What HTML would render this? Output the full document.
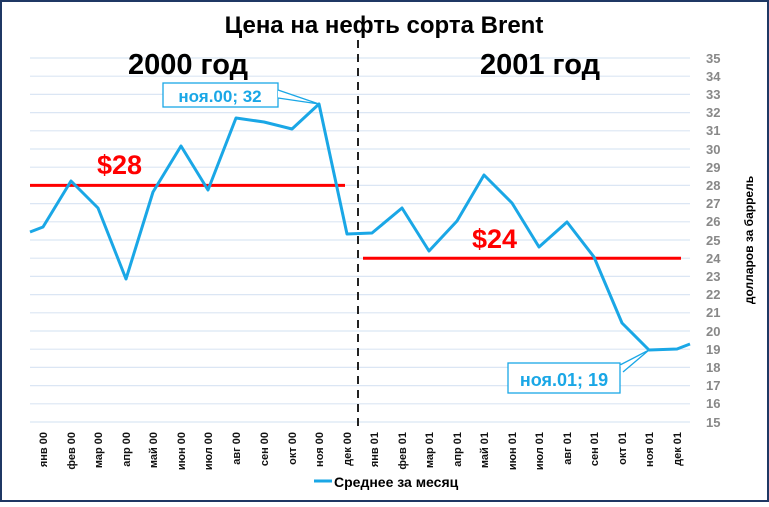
<!DOCTYPE html>
<html><head><meta charset="utf-8"><style>
html,body{margin:0;padding:0;background:#fff}
svg text{font-family:"Liberation Sans","DejaVu Sans",sans-serif}
</style></head><body>
<svg width="769" height="502" xmlns="http://www.w3.org/2000/svg">
<rect x="1" y="1" width="767" height="500" fill="#fff" stroke="#1f3864" stroke-width="2"/>
<g stroke="#dbe6f4" stroke-width="1.2">
<line x1="30" x2="690" y1="58" y2="58"/><line x1="30" x2="690" y1="76.2" y2="76.2"/><line x1="30" x2="690" y1="94.4" y2="94.4"/><line x1="30" x2="690" y1="112.6" y2="112.6"/><line x1="30" x2="690" y1="130.8" y2="130.8"/><line x1="30" x2="690" y1="149" y2="149"/><line x1="30" x2="690" y1="167.2" y2="167.2"/><line x1="30" x2="690" y1="185.4" y2="185.4"/><line x1="30" x2="690" y1="203.6" y2="203.6"/><line x1="30" x2="690" y1="221.8" y2="221.8"/><line x1="30" x2="690" y1="240" y2="240"/><line x1="30" x2="690" y1="258.2" y2="258.2"/><line x1="30" x2="690" y1="276.4" y2="276.4"/><line x1="30" x2="690" y1="294.6" y2="294.6"/><line x1="30" x2="690" y1="312.8" y2="312.8"/><line x1="30" x2="690" y1="331" y2="331"/><line x1="30" x2="690" y1="349.2" y2="349.2"/><line x1="30" x2="690" y1="367.4" y2="367.4"/><line x1="30" x2="690" y1="385.6" y2="385.6"/><line x1="30" x2="690" y1="403.8" y2="403.8"/><line x1="30" x2="690" y1="422" y2="422"/>
</g>
<g fill="#888" font-size="13" font-weight="bold" text-anchor="start">
<text x="706" y="63">35</text><text x="706" y="81">34</text><text x="706" y="99">33</text><text x="706" y="117">32</text><text x="706" y="135">31</text><text x="706" y="154">30</text><text x="706" y="172">29</text><text x="706" y="190">28</text><text x="706" y="208">27</text><text x="706" y="226">26</text><text x="706" y="245">25</text><text x="706" y="263">24</text><text x="706" y="281">23</text><text x="706" y="299">22</text><text x="706" y="317">21</text><text x="706" y="336">20</text><text x="706" y="354">19</text><text x="706" y="372">18</text><text x="706" y="390">17</text><text x="706" y="408">16</text><text x="706" y="427">15</text>
</g>
<text transform="translate(753,240) rotate(-90)" font-size="12" font-weight="bold" text-anchor="middle" fill="#000">долларов за баррель</text>
<text x="384" y="33" font-size="24" font-weight="bold" text-anchor="middle">Цена на нефть сорта Brent</text>
<text x="188" y="74" font-size="29" font-weight="bold" text-anchor="middle">2000 год</text>
<text x="540" y="74" font-size="29" font-weight="bold" text-anchor="middle">2001 год</text>
<line x1="358" y1="40" x2="358" y2="432" stroke="#222" stroke-width="2" stroke-dasharray="8,6"/>
<line x1="30" y1="185.4" x2="345" y2="185.4" stroke="#f00" stroke-width="3"/>
<line x1="363" y1="258.2" x2="681" y2="258.2" stroke="#f00" stroke-width="3"/>
<text x="97" y="174" font-size="27" font-weight="bold" fill="#f00">$28</text>
<text x="472" y="248" font-size="27" font-weight="bold" fill="#f00">$24</text>
<polyline fill="none" stroke="#1aa7e6" stroke-width="3" stroke-linejoin="round" points="30,232 43,227 71,181 98,208 126,279 153,192 181,146 208,190 236,118 264,122 292,129 319,104 347,234 372,233 402,208 429,251 457,221 484,175 512,203 539,247 567,222 594,257 622,323 649,350 677,349 690,344"/>
<g>
<rect x="163" y="83" width="115" height="24" fill="#fff" stroke="#1aa7e6" stroke-width="1.3"/>
<polyline points="278,98 319,104 278,90" fill="#fff" stroke="#1aa7e6" stroke-width="1.3"/>
<text x="220" y="102" font-size="17" font-weight="bold" fill="#1aa7e6" text-anchor="middle">ноя.00; 32</text>
<rect x="508" y="363" width="112" height="30" fill="#fff" stroke="#1aa7e6" stroke-width="1.3"/>
<polyline points="620,365 649,350 623,372" fill="#fff" stroke="#1aa7e6" stroke-width="1.3"/>
<text x="564" y="386" font-size="18" font-weight="bold" fill="#1aa7e6" text-anchor="middle">ноя.01; 19</text>
</g>
<g font-size="11" font-weight="bold" fill="#111" text-anchor="end">
<text transform="translate(47,432) rotate(-90)">янв 00</text>
<text transform="translate(75,432) rotate(-90)">фев 00</text>
<text transform="translate(102,432) rotate(-90)">мар 00</text>
<text transform="translate(130,432) rotate(-90)">апр 00</text>
<text transform="translate(157,432) rotate(-90)">май 00</text>
<text transform="translate(185,432) rotate(-90)">июн 00</text>
<text transform="translate(212,432) rotate(-90)">июл 00</text>
<text transform="translate(240,432) rotate(-90)">авг 00</text>
<text transform="translate(268,432) rotate(-90)">сен 00</text>
<text transform="translate(296,432) rotate(-90)">окт 00</text>
<text transform="translate(323,432) rotate(-90)">ноя 00</text>
<text transform="translate(351,432) rotate(-90)">дек 00</text>
<text transform="translate(378,432) rotate(-90)">янв 01</text>
<text transform="translate(406,432) rotate(-90)">фев 01</text>
<text transform="translate(433,432) rotate(-90)">мар 01</text>
<text transform="translate(461,432) rotate(-90)">апр 01</text>
<text transform="translate(488,432) rotate(-90)">май 01</text>
<text transform="translate(516,432) rotate(-90)">июн 01</text>
<text transform="translate(543,432) rotate(-90)">июл 01</text>
<text transform="translate(571,432) rotate(-90)">авг 01</text>
<text transform="translate(598,432) rotate(-90)">сен 01</text>
<text transform="translate(626,432) rotate(-90)">окт 01</text>
<text transform="translate(653,432) rotate(-90)">ноя 01</text>
<text transform="translate(681,432) rotate(-90)">дек 01</text>
</g>
<line x1="314" y1="481" x2="332" y2="481" stroke="#1aa7e6" stroke-width="3"/>
<text x="334" y="487" font-size="14" font-weight="bold">Среднее за месяц</text>
</svg>
</body></html>
